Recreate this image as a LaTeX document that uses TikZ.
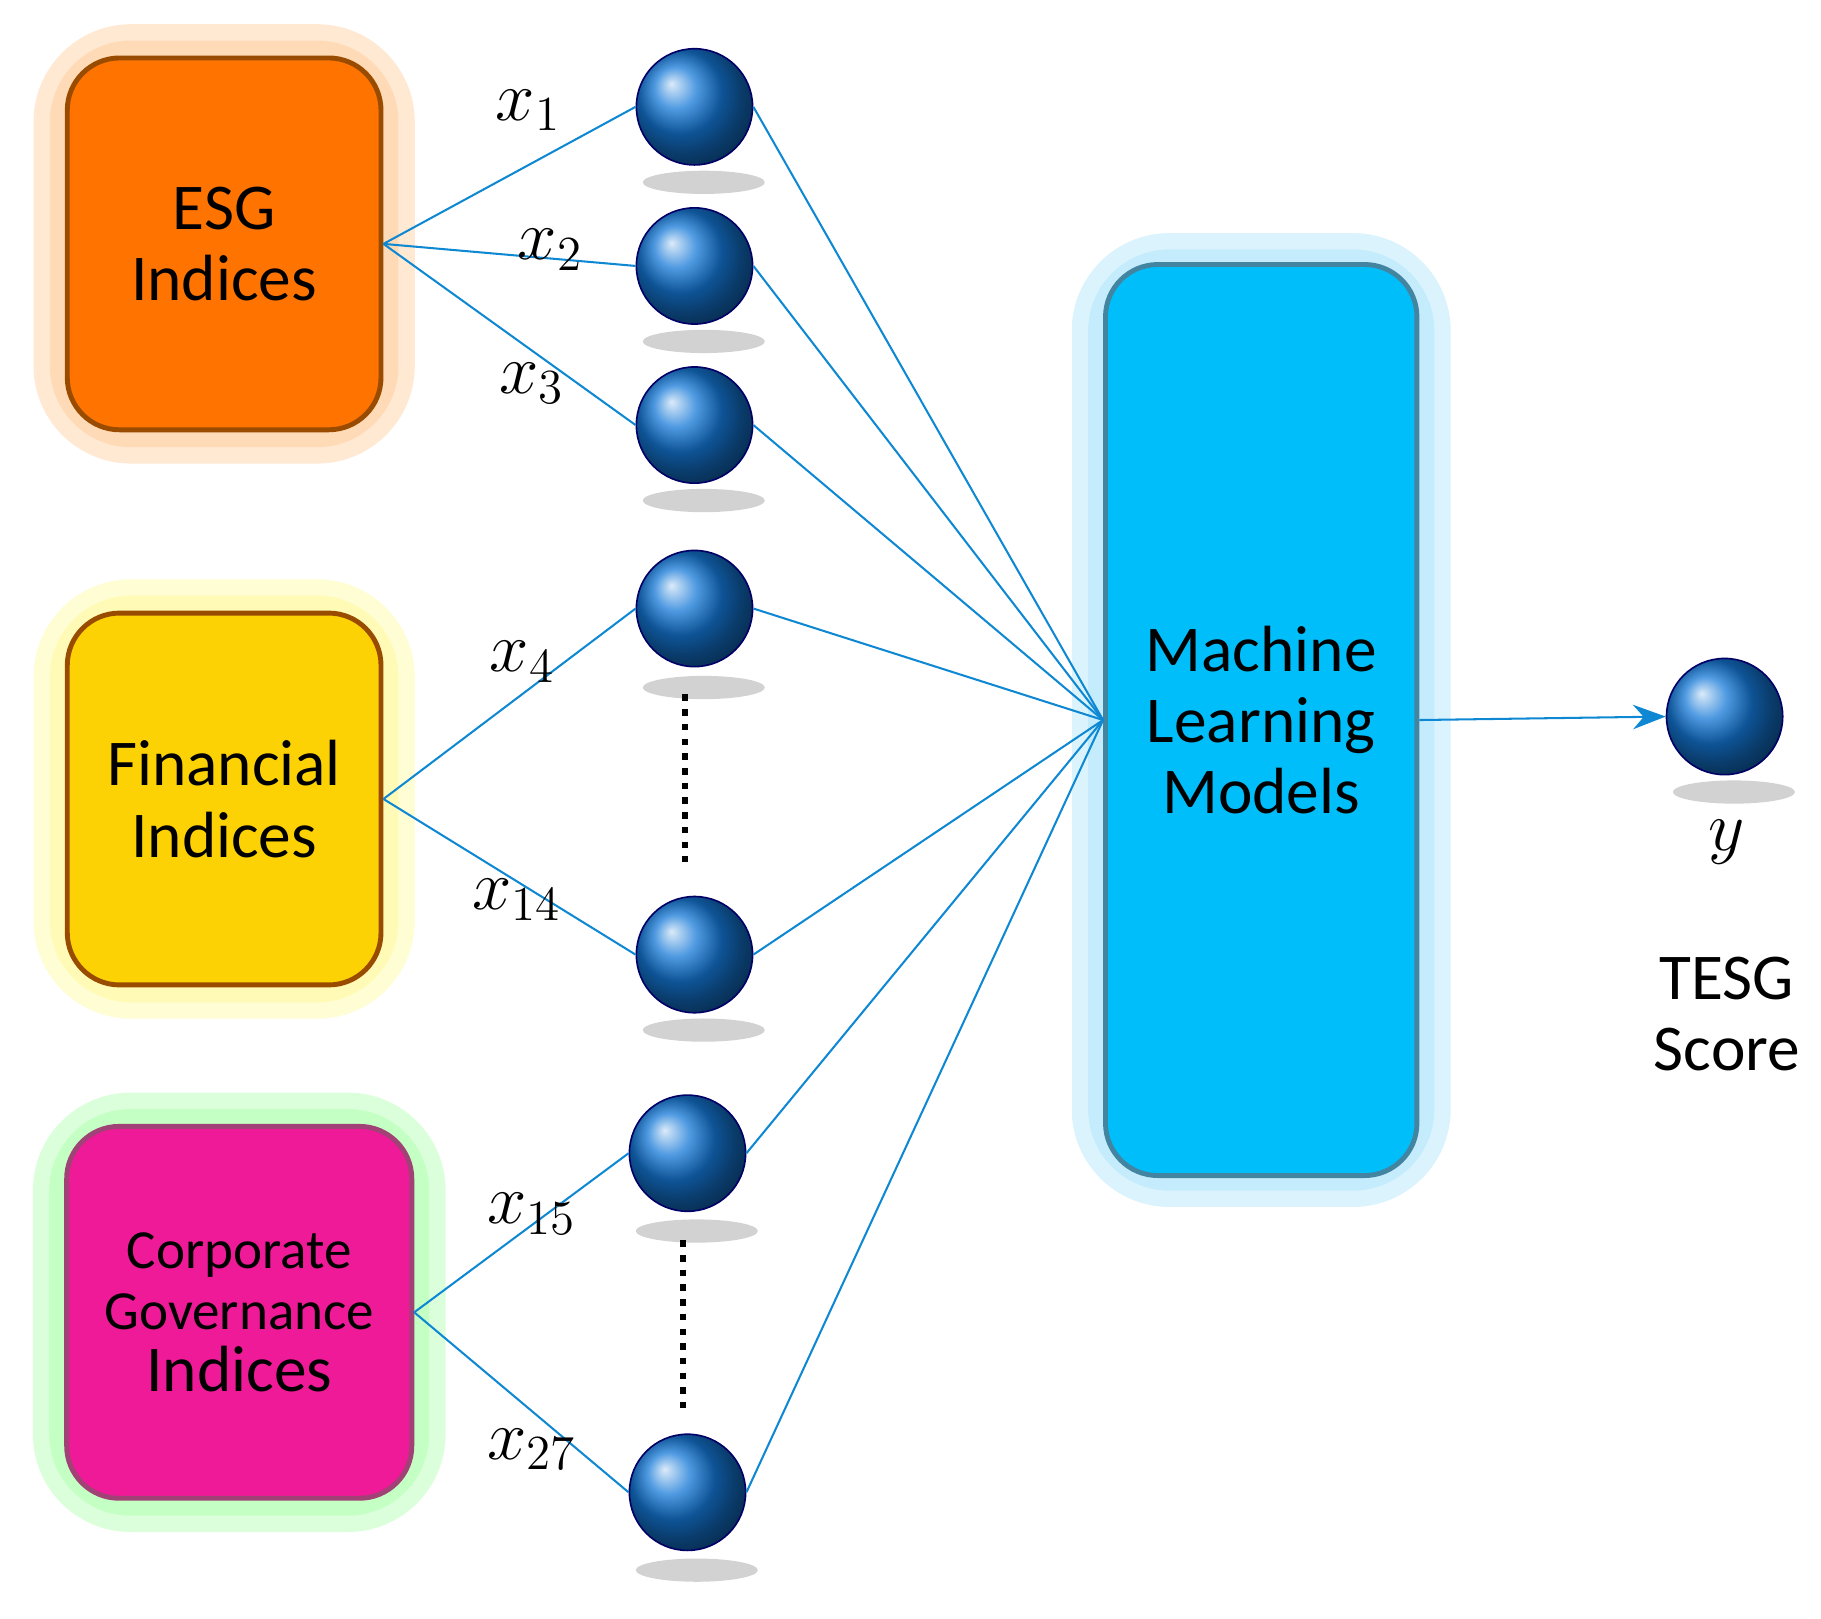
\documentclass[tikz,border=0pt]{standalone}
\usepackage{fontspec}
\setmainfont{Carlito}
\usepackage{amsmath}
\usetikzlibrary{arrows.meta,positioning,calc,shadows,shapes.geometric}
\definecolor{mlblue}{RGB}{0,190,250}
\definecolor{unitblue}{RGB}{20,120,215}

\begin{document}
\begin{tikzpicture}[
    x=0.01cm, y=-0.01cm,
    box/.style={rectangle, rounded corners=0.45cm, draw=#1!60!black, line width=1.2pt,
        align=center, font=\fontsize{16}{17.5}\selectfont},
    glow/.style={rectangle, rounded corners=0.7cm, fill=#1, opacity=0.35, draw=#1, line width=8pt},
    unit/.style={circle, minimum size=1cm, inner sep=0pt, ball color=unitblue, draw=blue!40!black, thin},
    shade/.style={ellipse, fill=gray!50, opacity=0.7, minimum width=1.05cm, minimum height=0.2cm, inner sep=0pt},
    link/.style={cyan!70!blue, line width=0.5pt},
    lbl/.style={font=\fontsize{17}{20}\selectfont}
]
\useasboundingbox (0,0) rectangle (1568,1394);

% Glows
\node[glow=orange!50] at (193,210) [minimum width=3.0cm, minimum height=3.5cm] {};
\node[glow=yellow!50] at (193,688) [minimum width=3.0cm, minimum height=3.5cm] {};
\node[glow=green!40] at (206,1130) [minimum width=3.27cm, minimum height=3.5cm] {};
\node[glow=cyan!40] at (1086,620) [minimum width=2.98cm, minimum height=8.1cm] {};

% Input groups
\node[box=orange, fill=orange!90!red, minimum width=2.7cm, minimum height=3.2cm] (esg) at (193,210) {ESG\\Indices};
\node[box=orange, fill=yellow!70!orange, minimum width=2.7cm, minimum height=3.2cm] (fin) at (193,688) {Financial\\Indices};
\node[box=magenta, fill=magenta!90!white, minimum width=2.97cm, minimum height=3.2cm, font=\fontsize{13.5}{15}\selectfont] (cg) at (206,1130) {Corporate\\Governance\\{\fontsize{16}{17}\selectfont Indices}};

% Model
\node[box=cyan, fill=mlblue, minimum width=2.68cm, minimum height=7.84cm] (ml) at (1086,620) {Machine\\Learning\\Models};

% Shadows
\foreach \x/\y in {606/157, 606/294, 606/431, 606/592, 606/887, 600/1060, 600/1352, 1493/682}
  \node[shade] at (\x,\y) {};

% Units
\node[unit] (u1) at (598,92) {};
\node[unit] (u2) at (598,229) {};
\node[unit] (u3) at (598,366) {};
\node[unit] (u4) at (598,524) {};
\node[unit] (u14) at (598,822) {};
\node[unit] (u15) at (592,993) {};
\node[unit] (u27) at (592,1285) {};
\node[unit] (out) at (1485,617) {};

% Dots
\coordinate (d1a) at (590,598); \coordinate (d1b) at (590,742);
\coordinate (d2a) at (588,1068); \coordinate (d2b) at (588,1212);
\draw[line width=1.6pt, dotted] (d1a) -- (d1b);
\draw[line width=1.6pt, dotted] (d2a) -- (d2b);

% Links
\foreach \u in {u1,u2,u3} \draw[link] (esg.east) -- (\u.west);
\foreach \u in {u4,u14} \draw[link] (fin.east) -- (\u.west);
\foreach \u in {u15,u27} \draw[link] (cg.east) -- (\u.west);
\foreach \u in {u1,u2,u3,u4,u14,u15,u27} \draw[link] (\u.east) -- (ml.west);
\draw[link, -{Stealth[length=8pt]}] (ml.east) -- (out.west);

% Labels
\node[lbl] (l1) at (455,95) {$x_1$};
\node[lbl] (l2) at (474,215) {$x_2$};
\node[lbl] (l3) at (458,330) {$x_3$};
\node[lbl] (l4) at (450,570) {$x_4$};
\node[lbl] (l14) at (445,775) {$x_{14}$};
\node[lbl] (l15) at (458,1045) {$x_{15}$};
\node[lbl] (l27) at (458,1248) {$x_{27}$};
\node[lbl] (ly) at (1487,725) {$y$};
\node[align=center, font=\fontsize{16}{17.5}\selectfont] (score) at (1487,873) {TESG\\Score};
\end{tikzpicture}
\end{document}
